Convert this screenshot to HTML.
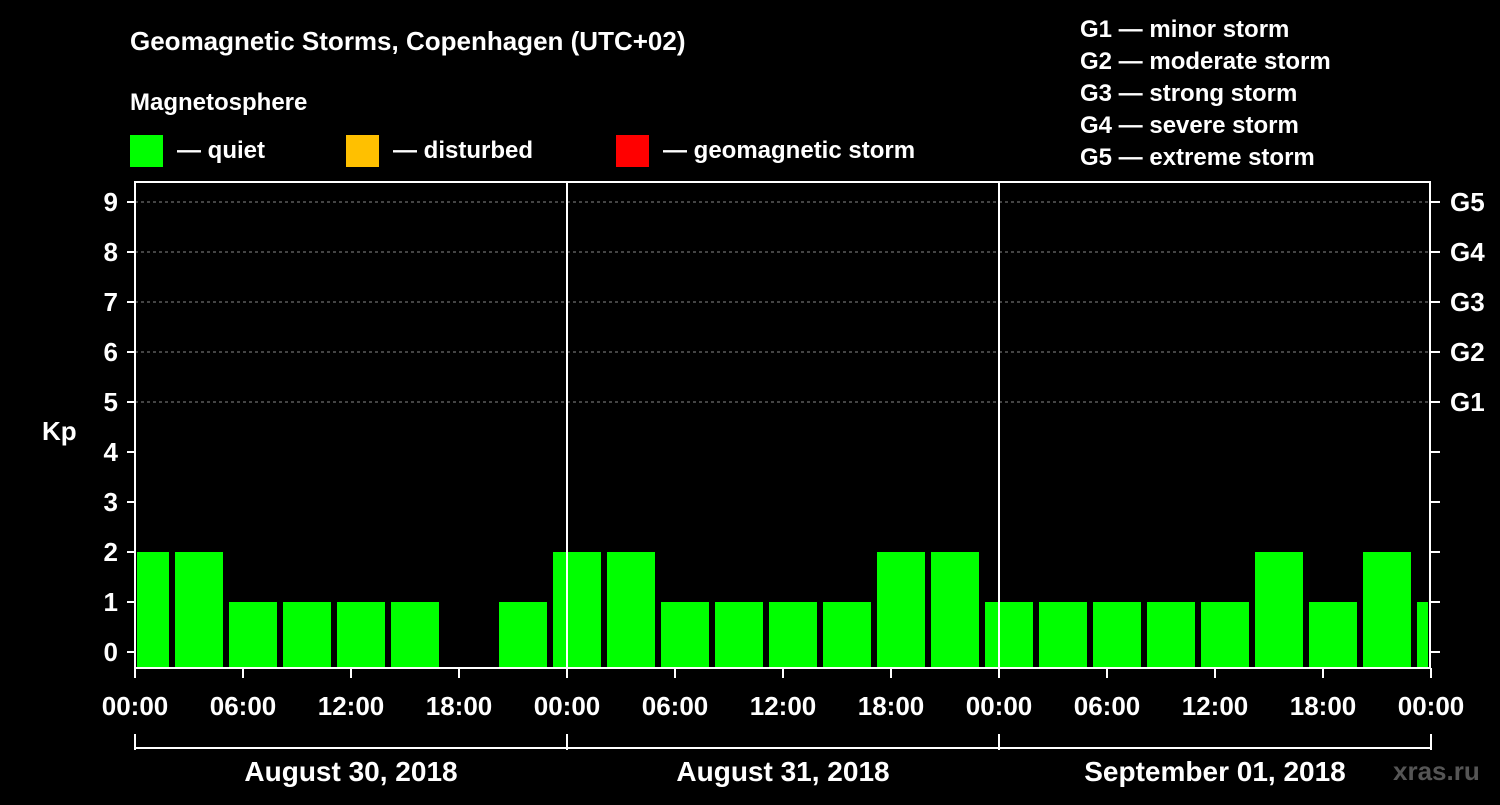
<!DOCTYPE html>
<html><head><meta charset="utf-8"><style>
body{margin:0;background:#000;width:1500px;height:800px;overflow:hidden}
svg text{font-family:"Liberation Sans",sans-serif;font-weight:bold;fill:#fff}
</style></head><body>
<svg id="chart" width="1500" height="800" xmlns="http://www.w3.org/2000/svg">
<rect width="1500" height="800" fill="#000"/>
<text x="130" y="50" font-size="26">Geomagnetic Storms, Copenhagen (UTC+02)</text>
<text x="130" y="110" font-size="24">Magnetosphere</text>
<g><rect x="130" y="135" width="33" height="32" fill="#00ff00"/><text x="177" y="158" font-size="24">— quiet</text></g>
<g><rect x="346" y="135" width="33" height="32" fill="#ffc000"/><text x="393" y="158" font-size="24">— disturbed</text></g>
<g><rect x="616" y="135" width="33" height="32" fill="#ff0000"/><text x="663" y="158" font-size="24">— geomagnetic storm</text></g>
<g font-size="24">
<text x="1080" y="37">G1 — minor storm</text>
<text x="1080" y="69">G2 — moderate storm</text>
<text x="1080" y="101">G3 — strong storm</text>
<text x="1080" y="133">G4 — severe storm</text>
<text x="1080" y="165">G5 — extreme storm</text>
</g>
<text x="42" y="440" font-size="26">Kp</text>
<g id="grid"></g><g id="bars"></g><g id="axes"></g>
<text x="1393" y="780" font-size="26" fill="#555" style="fill:#555">xras.ru</text>
</svg>
<script>
const kpValues=[2,2,1,1,1,1,0,1,2,2,1,1,1,1,2,2,1,1,1,1,1,2,1,2,1];
const yTicks=[0,1,2,3,4,5,6,7,8,9];
const gLabels=["G1","G2","G3","G4","G5"];
const gLevels=[5,6,7,8,9];
const timeLabels=["00:00","06:00","12:00","18:00"];
const dayLabels=["August 30, 2018","August 31, 2018","September 01, 2018"];
const NS="http://www.w3.org/2000/svg";
const L=135,R=1430,T=182,B=668,hourPx=18,firstBarHour=-15/18;
const y=v=>652-50*v;
const x=h=>L+h*hourPx;
function mk(tag,attrs,parent,txt){const e=document.createElementNS(NS,tag);for(const k in attrs)e.setAttribute(k,attrs[k]);if(txt!==undefined)e.textContent=txt;parent.appendChild(e);return e;}
const grid=document.getElementById('grid'),bars=document.getElementById('bars'),axes=document.getElementById('axes');
gLevels.forEach((g,i)=>{
 const l=mk('line',{x1:L,x2:R,y1:y(g),y2:y(g),stroke:'#888','stroke-dasharray':'3,3','stroke-width':1},grid);
 
 
 const t=mk('text',{x:1450,y:y(g)+9,'font-size':26},axes,gLabels[i]);
 
 
});
kpValues.forEach((v,i)=>{
 let x0=x(firstBarHour+3*i)+1, x1=x0+48;
 x0=Math.max(x0,L+2); x1=Math.min(x1,R-2);
 if(v<=0)return;
 const color=v>=5?'#ff0000':(v>=4?'#ffc000':'#00ff00');
 const r=mk('rect',{x:x0,y:y(v),width:x1-x0,height:B-y(v),fill:color},bars);
 
 
});
const frame=mk('rect',{x:L,y:T,width:R-L,height:B-T,fill:'none',stroke:'#fff','stroke-width':2},axes);


yTicks.forEach(v=>{
 mk('line',{x1:L-8,x2:L,y1:y(v),y2:y(v),stroke:'#fff','stroke-width':2},axes);
 mk('line',{x1:R,x2:R+10,y1:y(v),y2:y(v),stroke:'#fff','stroke-width':2},axes);
 const t=mk('text',{x:118,y:y(v)+9,'font-size':26,'text-anchor':'end'},axes,String(v));
 
 
});
for(let d=0;d<3;d++){
 if(d>0){const s=mk('line',{x1:x(24*d),x2:x(24*d),y1:T,y2:B,stroke:'#fff','stroke-width':2},axes);
  
  }
 timeLabels.forEach((lab,j)=>{
  const h=24*d+6*j;
  mk('line',{x1:x(h),x2:x(h),y1:B,y2:B+10,stroke:'#fff','stroke-width':2},axes);
  const t=mk('text',{x:x(h),y:715,'font-size':26,'text-anchor':'middle'},axes,lab);
  
  
 });
 const dl=mk('text',{x:x(24*d+12),y:781,'font-size':28,'text-anchor':'middle'},axes,dayLabels[d]);
 
 
}
mk('line',{x1:x(72),x2:x(72),y1:B,y2:B+10,stroke:'#fff','stroke-width':2},axes);
const lt=mk('text',{x:x(72),y:715,'font-size':26,'text-anchor':'middle'},axes,"00:00");


mk('line',{x1:L,x2:R,y1:748,y2:748,stroke:'#fff','stroke-width':2},axes);
for(let d=0;d<=3;d++)mk('line',{x1:x(24*d),x2:x(24*d),y1:734,y2:750,stroke:'#fff','stroke-width':2},axes);
</script>
</body></html>
